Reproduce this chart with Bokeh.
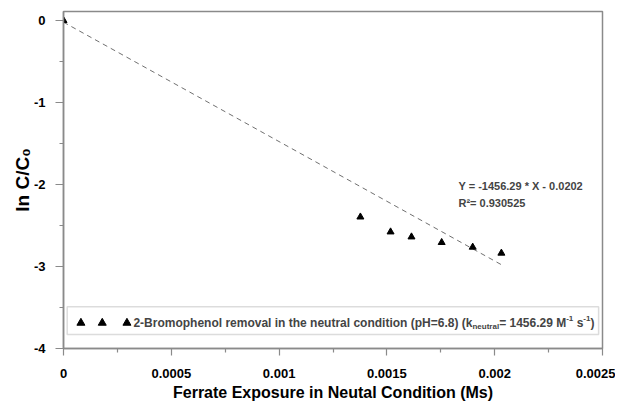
from bokeh.plotting import figure
from bokeh.models import Range1d, FixedTicker, Label, BoxAnnotation
from bokeh.embed import file_html
from bokeh.resources import INLINE

# ---- data ----
exposure = [0.0, 0.001377, 0.001517, 0.001614, 0.001754, 0.001898, 0.002031]
ln_c = [0.0, -2.396, -2.578, -2.639, -2.707, -2.764, -2.837]
fit_slope = -1456.29
fit_intercept = -0.0202
r_squared = "0.930525"

x_ticks = [0.0, 0.0005, 0.001, 0.0015, 0.002, 0.0025]
x_tick_labels = ["0", "0.0005", "0.001", "0.0015", "0.002", "0.0025"]
y_ticks = [0, -1, -2, -3, -4]
y_tick_labels = ["0", "-1", "-2", "-3", "-4"]

x_title = "Ferrate Exposure in Neutal Condition (Ms)"
y_title = "ln C/C\u2080"
eq_text = "Y = -1456.29 * X - 0.0202"
legend_main = "2-Bromophenol removal in the neutral condition (pH=6.8) (k"
legend_sub = "neutral"
legend_rest = "= 1456.29 M"
legend_sup = "-1"
legend_s = "s"
legend_close = ")"

FONT = "Liberation Sans"
GRAY = "#8a8a8a"

# Arial-bold advance widths (1/1000 em) for text layout
W = {' ': 278, '!': 333, '(': 333, ')': 333, '*': 389, '+': 584, '-': 333, '.': 278,
     '/': 278, '=': 584, 'M': 833, 'B': 722, 'X': 667, 'Y': 667, 'R': 722, 'H': 722,
     'a': 556, 'b': 611, 'c': 556, 'd': 611, 'e': 556, 'f': 333, 'g': 611, 'h': 611,
     'i': 278, 'j': 278, 'k': 556, 'l': 278, 'm': 889, 'n': 611, 'o': 611, 'p': 611,
     'q': 611, 'r': 389, 's': 556, 't': 333, 'u': 611, 'v': 556, 'w': 778, 'x': 556,
     'y': 556, 'z': 500}


def tw(s, size):
    return sum(W.get(c, 556) for c in s) / 1000.0 * size


p = figure(width=615, height=406, output_backend="svg", toolbar_location=None,
           x_range=Range1d(0, 0.0025), y_range=Range1d(-4, 0.11),
           min_border_left=63, min_border_right=13, min_border_top=11,
           min_border_bottom=58)
p.background_fill_color = "white"
p.border_fill_color = "white"
p.outline_line_color = GRAY
p.outline_line_width = 1.5
p.xgrid.visible = False
p.ygrid.visible = False

x_minor = [(a + b) / 2 for a, b in zip(x_ticks[:-1], x_ticks[1:])]
y_minor = [(a + b) / 2 for a, b in zip(y_ticks[:-1], y_ticks[1:])]

p.xaxis.ticker = FixedTicker(ticks=x_ticks, minor_ticks=x_minor)
p.xaxis.major_label_overrides = {t: s for t, s in zip(x_ticks, x_tick_labels)}
p.yaxis.ticker = FixedTicker(ticks=y_ticks, minor_ticks=y_minor)
p.yaxis.major_label_overrides = {t: s for t, s in zip(y_ticks, y_tick_labels)}

for ax in (p.xaxis[0], p.yaxis[0]):
    ax.axis_line_color = GRAY
    ax.axis_line_width = 1.5
    ax.major_tick_line_color = GRAY
    ax.minor_tick_line_color = GRAY
    ax.major_tick_line_width = 1.2
    ax.minor_tick_line_width = 1.2
    ax.major_tick_in = 0
    ax.minor_tick_in = 0
    ax.minor_tick_out = 4
    ax.major_label_text_font = FONT
    ax.major_label_text_font_style = "bold"
    ax.major_label_text_font_size = "13px"
    ax.major_label_text_color = "black"
    ax.axis_label_text_font = FONT
    ax.axis_label_text_font_style = "bold"
    ax.axis_label_text_color = "black"

p.xaxis.axis_label_text_font_size = "16px"
p.yaxis.axis_label_text_font_size = "19px"
p.xaxis.major_tick_out = 7
p.yaxis.major_tick_out = 8
p.xaxis.major_label_standoff = 13
p.yaxis.major_label_standoff = 10
p.xaxis.axis_label_standoff = 3
p.yaxis.axis_label_standoff = -2
p.xaxis.axis_label = x_title
p.yaxis.axis_label = y_title

# fit line
fit_x = [0.0, max(exposure)]
fit_y = [fit_slope * x + fit_intercept for x in fit_x]
p.line(fit_x, fit_y, line_color="#707070", line_width=1, line_dash="5 4")

# data
p.scatter(exposure, ln_c, marker="triangle", size=7, color="black")

# equation
p.add_layout(Label(x=0.001832, y=-2.02, text=eq_text, text_font=FONT,
                   text_font_style="bold", text_font_size="11px",
                   text_baseline="middle"))
p.add_layout(Label(x=0.001832, y=-2.23, text="R\u00b2= " + r_squared, text_font=FONT,
                   text_font_style="bold", text_font_size="11px",
                   text_baseline="middle"))

# legend box
p.add_layout(BoxAnnotation(left=0.0000172, right=0.002482, top=-3.49, bottom=-3.83,
                           fill_alpha=0, line_color=GRAY, line_width=1.5, level="overlay"))
leg_y = -3.688
p.scatter([0.0000808, 0.0001797, 0.0002943], [leg_y] * 3, marker="triangle",
          size=8, color="black")

big = 12
small = 8
pieces = [
    (legend_main, big, 0, 0),
    (legend_sub, small, -4, 0),
    (legend_rest, big, 0, 0),
    (legend_sup, small, 4, 0),
    (legend_s, big, 0, tw(" ", big)),
    (legend_sup, small, 4, 0),
    (legend_close, big, 0, 0),
]
off = 2.0
for txt, sz, dy, gap in pieces:
    off += gap
    p.add_layout(Label(x=0.000315, y=leg_y, x_offset=off, y_offset=dy, text=txt,
                       text_font=FONT, text_font_style="bold",
                       text_font_size=f"{sz}px", text_baseline="middle"))
    off += tw(txt, sz)

open("out.html", "w").write(file_html(p, INLINE))
